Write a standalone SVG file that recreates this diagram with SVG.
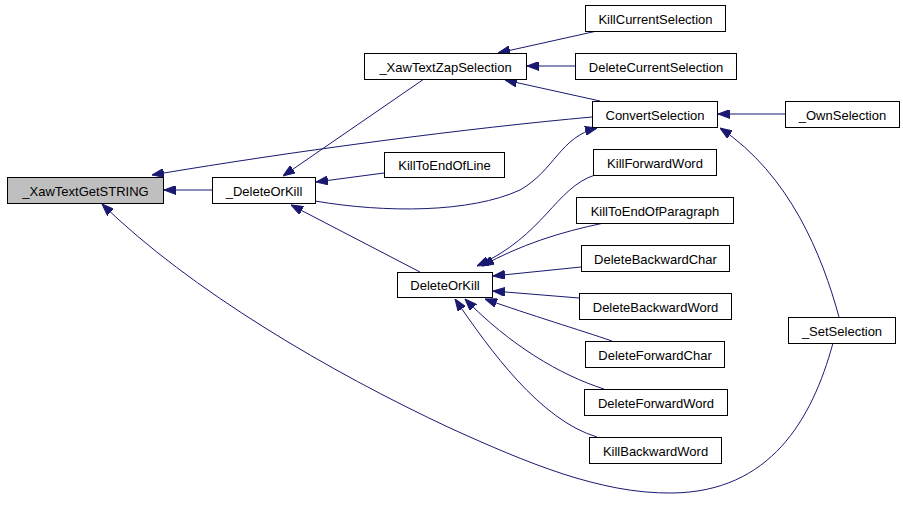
<svg xmlns="http://www.w3.org/2000/svg" width="903" height="510" viewBox="0 0 903 510">
<style>
.n rect{fill:#fff;stroke:#000;stroke-width:1}
.n text{font-family:"Liberation Sans",Arial,sans-serif;font-size:13px;text-anchor:middle;fill:#000}
.e path{fill:none;stroke:#191970;stroke-width:1;marker-end:url(#a)}
</style>
<defs>
<marker id="a" markerWidth="12" markerHeight="9" refX="12" refY="4.5" orient="auto" markerUnits="userSpaceOnUse">
<path d="M0,0 L12,4.5 L0,9 z" fill="#191970" stroke="#191970"/>
</marker>
</defs>
<rect width="903" height="510" fill="#fff"/>
<g class="e" id="edges">
<path d="M212,190 L164,190"/>
<path d="M592,117 C470,128 300,150 152,175"/>
<path d="M833,343 C812,420 770,492 672,493 C600,494 525,462 450,428 C330,372 190,290 102,204"/>
<path d="M424,79 L283,176"/>
<path d="M384,173 L316,182"/>
<path d="M420,272 L291,205"/>
<path d="M315,201 C385,213 470,213 520,190 C555,170 560,137 597,128"/>
<path d="M597,31 L498,53"/>
<path d="M575,66 L527,66"/>
<path d="M600,101 L505,80"/>
<path d="M785,114 L718,114"/>
<path d="M839,317 C822,255 790,175 720,128"/>
<path d="M595,175 C555,188 545,235 477,266"/>
<path d="M604,223 C560,232 520,245 482,266"/>
<path d="M581,267 L493,276"/>
<path d="M579,298 L493,291"/>
<path d="M612,341 C580,330 530,315 485,299"/>
<path d="M604,389 C560,375 510,345 465,299"/>
<path d="M597,437 C540,420 490,350 455,299"/>
</g>
<g class="n" id="n0"><rect x="7.5" y="177.5" width="156" height="26" style="fill:#bfbfbf"/><text x="85.5" y="196">_XawTextGetSTRING</text></g>
<g class="n" id="n1"><rect x="212.5" y="177.5" width="103" height="26"/><text x="264" y="196">_DeleteOrKill</text></g>
<g class="n" id="n2"><rect x="364.5" y="53.5" width="162" height="26"/><text x="445.5" y="72">_XawTextZapSelection</text></g>
<g class="n" id="n3"><rect x="384.5" y="152.5" width="120" height="25"/><text x="444.5" y="170">KillToEndOfLine</text></g>
<g class="n" id="n4"><rect x="585.5" y="5.5" width="140" height="26"/><text x="655.5" y="24">KillCurrentSelection</text></g>
<g class="n" id="n5"><rect x="575.5" y="53.5" width="161" height="26"/><text x="656" y="72">DeleteCurrentSelection</text></g>
<g class="n" id="n6"><rect x="592.5" y="101.5" width="125" height="26"/><text x="655" y="120">ConvertSelection</text></g>
<g class="n" id="n7"><rect x="785.5" y="101.5" width="114" height="26"/><text x="842.5" y="120">_OwnSelection</text></g>
<g class="n" id="n8"><rect x="593.5" y="149.5" width="123" height="26"/><text x="655" y="168">KillForwardWord</text></g>
<g class="n" id="n9"><rect x="576.5" y="197.5" width="157" height="26"/><text x="655" y="216">KillToEndOfParagraph</text></g>
<g class="n" id="n10"><rect x="581.5" y="245.5" width="148" height="26"/><text x="655.5" y="264">DeleteBackwardChar</text></g>
<g class="n" id="n11"><rect x="579.5" y="293.5" width="152" height="26"/><text x="655.5" y="312">DeleteBackwardWord</text></g>
<g class="n" id="n12"><rect x="585.5" y="341.5" width="139" height="26"/><text x="655" y="360">DeleteForwardChar</text></g>
<g class="n" id="n13"><rect x="584.5" y="389.5" width="143" height="26"/><text x="656" y="408">DeleteForwardWord</text></g>
<g class="n" id="n14"><rect x="589.5" y="437.5" width="132" height="26"/><text x="655.5" y="456">KillBackwardWord</text></g>
<g class="n" id="n15"><rect x="788.5" y="317.5" width="107" height="26"/><text x="842" y="336">_SetSelection</text></g>
<g class="n" id="n16"><rect x="397.5" y="272.5" width="95" height="25"/><text x="445" y="290">DeleteOrKill</text></g>
</svg>
